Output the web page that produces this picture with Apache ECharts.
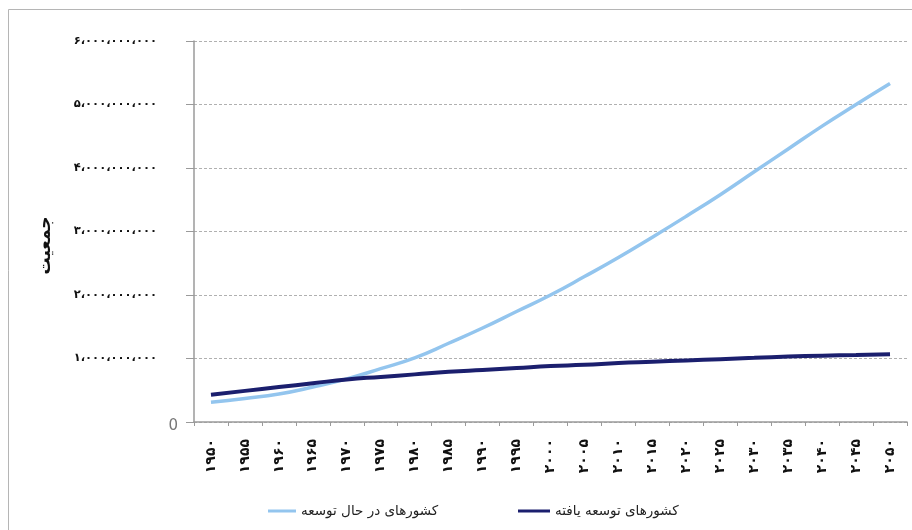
<!DOCTYPE html>
<html>
<head>
<meta charset="utf-8">
<script src="https://cdn.jsdelivr.net/npm/echarts@6/dist/echarts.min.js"></script>
<style>
html,body{margin:0;padding:0;background:#fff;}
#chart{width:912px;height:530px;}
</style>
</head>
<body>
<div id="chart"></div>
<script>
// Data (billions of people)
var years = [1950,1955,1960,1965,1970,1975,1980,1985,1990,1995,2000,2005,2010,2015,2020,2025,2030,2035,2040,2045,2050];
var developing = [0.31,0.37,0.44,0.55,0.68,0.84,1.01,1.24,1.48,1.74,2.00,2.29,2.59,2.91,3.24,3.58,3.94,4.30,4.66,5.00,5.33];
var developed  = [0.43,0.49,0.55,0.61,0.67,0.71,0.75,0.79,0.82,0.85,0.88,0.90,0.93,0.95,0.97,0.99,1.01,1.03,1.045,1.055,1.067];
var seriesNames = ['کشورهای در حال توسعه', 'کشورهای توسعه یافته'];
var yAxisName = 'جمعیت';

var faDigits = '۰۱۲۳۴۵۶۷۸۹';
function toFa(s){ return String(s).replace(/[0-9]/g, function(d){ return faDigits[+d]; }); }
function fmtNum(v){
  var s = String(Math.round(v));
  return toFa(s.replace(/\B(?=(\d{3})+(?!\d))/g, '،'));
}
function scale(arr){ return arr.map(function(v){ return Math.round(v*1e9); }); }

var chart = echarts.init(document.getElementById('chart'), null, {renderer:'canvas'});
var font = 'DejaVu Sans';
chart.setOption({
  animation: false,
  backgroundColor: '#fff',
  textStyle: {fontFamily: font},
  graphic: [{
    type: 'rect', silent: true,
    shape: {x: 8.5, y: 9.5, width: 1200, height: 1200},
    style: {fill: 'none', stroke: '#b5b5b5', lineWidth: 1}
  }],
  grid: {left: 194, right: 5, top: 41, bottom: 108, containLabel: false},
  legend: [{
    data: [{name: seriesNames[0], icon: 'rect'}], left: 263, top: 499,
    itemWidth: 28, itemHeight: 3, itemGap: 8,
    textStyle: {fontSize: 13.5, color: '#222', fontFamily: font}
  },{
    data: [{name: seriesNames[1], icon: 'rect'}], left: 513, top: 499,
    itemWidth: 32, itemHeight: 3,
    textStyle: {fontSize: 13.5, color: '#222', fontFamily: font}
  }],
  xAxis: {
    type: 'category',
    data: years,
    boundaryGap: true,
    axisLine: {lineStyle: {color: '#9a9a9a', width: 1.5}},
    axisTick: {show: true, length: 4, lineStyle: {color: '#9a9a9a'}},
    axisLabel: {
      rotate: 90, margin: 17, interval: 0,
      fontSize: 14, fontWeight: 'bold', color: '#111', fontFamily: font,
      formatter: function(v){ return toFa(v); }
    },
    splitLine: {show: false}
  },
  yAxis: {
    type: 'value',
    min: 0, max: 6e9, interval: 1e9,
    name: yAxisName,
    nameLocation: 'middle',
    nameRotate: 90,
    nameGap: 140,
    nameTextStyle: {fontSize: 17, fontWeight: 'bold', color: '#111', fontFamily: font, padding: [0, 28, 0, 0]},
    axisLine: {show: true, lineStyle: {color: '#9a9a9a', width: 1.5}},
    axisTick: {show: true, length: 8, lineStyle: {color: '#9a9a9a'}},
    axisLabel: {
      margin: 16,
      formatter: function(v){ return v === 0 ? '{z|0}' : '{n|' + fmtNum(v) + '}'; },
      rich: {
        z: {fontSize: 15, color: '#777', fontFamily: 'DejaVu Sans', padding: [8, 0, 0, 0]},
        n: {fontSize: 11.5, fontWeight: 'bold', color: '#111', fontFamily: font, padding: [0, 21, 0, 0]}
      }
    },
    splitLine: {show: true, lineStyle: {color: '#b0b0b0', type: [3, 2], width: 1}}
  },
  series: [{
    name: seriesNames[0], type: 'line', data: scale(developing),
    smooth: true, showSymbol: false, symbol: 'none',
    lineStyle: {color: '#93C5EE', width: 3.5},
    itemStyle: {color: '#93C5EE'}, z: 2
  },{
    name: seriesNames[1], type: 'line', data: scale(developed),
    smooth: true, showSymbol: false, symbol: 'none',
    lineStyle: {color: '#1B1F6E', width: 4},
    itemStyle: {color: '#1B1F6E'}, z: 3
  }]
});
</script>
</body>
</html>
